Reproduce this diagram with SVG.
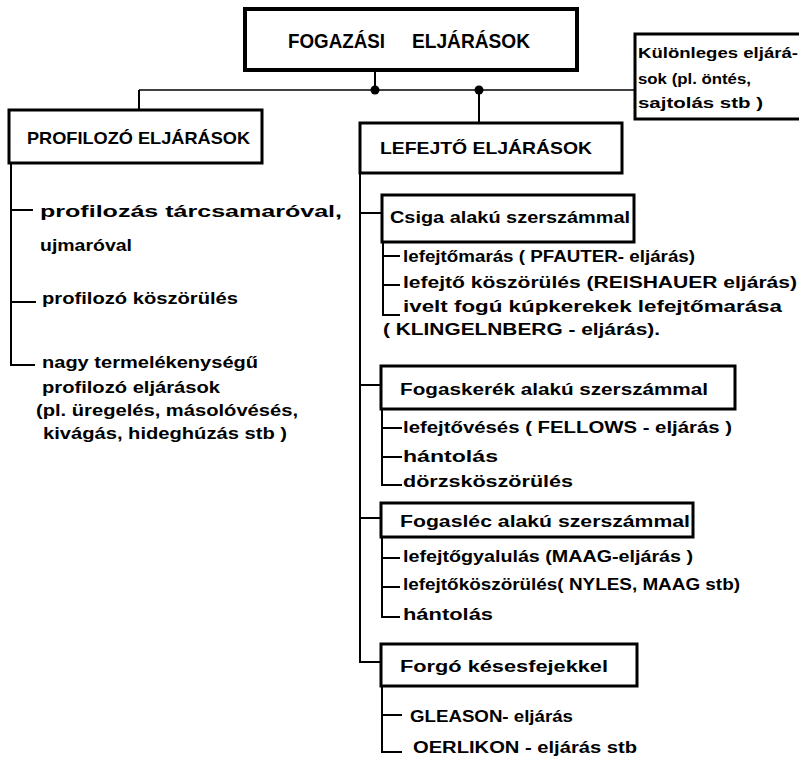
<svg xmlns="http://www.w3.org/2000/svg" width="799" height="759" viewBox="0 0 799 759">
<style>
  text { font-family: "Liberation Sans", Arial, sans-serif; font-weight: bold; fill: #000; }
  .box { fill: #fff; stroke: #000; stroke-width: 3; }
  .main { stroke-width: 4; }
  .ln { fill: none; stroke: #000; stroke-width: 2; }
  .thin { fill: none; stroke: #000; stroke-width: 1.5; }
  .t16 { font-size: 16px; }
  .t15 { font-size: 15px; }
  .t17 { font-size: 17px; }
</style>
<rect width="799" height="759" fill="#fff"/>

<g id="connectors">
  <path class="thin" d="M139 90 H635"/>
  <path class="ln" d="M375 70 V90 M139 90 V110 M479 90 V123"/>
  <circle cx="375" cy="90" r="4.5" fill="#000"/>
  <circle cx="479" cy="90" r="4.5" fill="#000"/>
  <path class="ln" d="M11 163 V365 H35 M11 210 H33 M11 302 H36"/>
  <path class="ln" d="M360 173 V662 H381 M360 213 H382 M360 385 H381 M360 518 H381"/>
  <path class="ln" d="M383 242 V315 H400 M383 256 H400 M383 285 H400"/>
  <path class="ln" d="M382 409 V485 H402 M382 428 H402 M382 457 H402"/>
  <path class="ln" d="M382 537 V617 H400 M382 558 H400 M382 587 H400"/>
  <path class="ln" d="M382 686 V752 H402 M382 715 H402"/>
</g>

<g id="fogazasi">
  <rect class="box main" x="245" y="9" width="332" height="61"/>
  <text x="288" y="48" font-size="20" textLength="97" lengthAdjust="spacingAndGlyphs">FOGAZÁSI</text>
  <text x="412" y="48" font-size="20" textLength="118" lengthAdjust="spacingAndGlyphs">ELJÁRÁSOK</text>
</g>

<g id="kulonleges">
  <rect class="box" x="635" y="34" width="168" height="85"/>
  <text class="t15" x="638" y="58" textLength="160" lengthAdjust="spacingAndGlyphs">Különleges eljárá-</text>
  <text class="t15" x="638" y="84" textLength="113" lengthAdjust="spacingAndGlyphs">sok (pl. öntés,</text>
  <text class="t15" x="638" y="108" textLength="125" lengthAdjust="spacingAndGlyphs">sajtolás  stb )</text>
</g>

<g id="profilozo">
  <rect class="box" x="9" y="110" width="253" height="53"/>
  <text class="t17" x="27" y="144" textLength="223" lengthAdjust="spacingAndGlyphs">PROFILOZÓ  ELJÁRÁSOK</text>
</g>

<g id="profilozo-items">
  <text class="t16" x="40" y="217" textLength="302" lengthAdjust="spacingAndGlyphs">profilozás  tárcsamaróval,</text>
  <text class="t16" x="40" y="251" textLength="92" lengthAdjust="spacingAndGlyphs">ujmaróval</text>
  <text class="t16" x="42" y="304" textLength="196" lengthAdjust="spacingAndGlyphs">profilozó  köszörülés</text>
  <text class="t16" x="42" y="368" textLength="216" lengthAdjust="spacingAndGlyphs">nagy  termelékenységű</text>
  <text class="t16" x="42" y="393" textLength="178" lengthAdjust="spacingAndGlyphs">profilozó  eljárások</text>
  <text class="t16" x="36" y="416" textLength="262" lengthAdjust="spacingAndGlyphs">(pl. üregelés,  másolóvésés,</text>
  <text class="t16" x="43" y="439" textLength="244" lengthAdjust="spacingAndGlyphs">kivágás, hideghúzás   stb )</text>
</g>

<g id="lefejto">
  <rect class="box" x="360" y="123" width="262" height="50"/>
  <text class="t17" x="380" y="154" textLength="212" lengthAdjust="spacingAndGlyphs">LEFEJTŐ  ELJÁRÁSOK</text>
</g>

<g id="csiga">
  <rect class="box" x="382" y="195" width="252" height="47"/>
  <text class="t16" x="390" y="223" textLength="240" lengthAdjust="spacingAndGlyphs">Csiga alakú szerszámmal</text>
</g>
<g id="csiga-items">
  <text class="t16" x="403" y="262" textLength="292" lengthAdjust="spacingAndGlyphs">lefejtőmarás  ( PFAUTER- eljárás)</text>
  <text class="t16" x="403" y="288" textLength="394" lengthAdjust="spacingAndGlyphs">lefejtő  köszörülés (REISHAUER  eljárás)</text>
  <text class="t16" x="403" y="312" textLength="379" lengthAdjust="spacingAndGlyphs">ivelt  fogú  kúpkerekek  lefejtőmarása</text>
  <text class="t16" x="383" y="335" textLength="277" lengthAdjust="spacingAndGlyphs">( KLINGELNBERG - eljárás).</text>
</g>

<g id="fogaskerek">
  <rect class="box" x="381" y="366" width="354" height="43"/>
  <text class="t16" x="400" y="395" textLength="308" lengthAdjust="spacingAndGlyphs">Fogaskerék  alakú  szerszámmal</text>
</g>
<g id="fogaskerek-items">
  <text class="t16" x="403" y="433" textLength="329" lengthAdjust="spacingAndGlyphs">lefejtővésés  ( FELLOWS - eljárás )</text>
  <text class="t16" x="403" y="462" textLength="95" lengthAdjust="spacingAndGlyphs">hántolás</text>
  <text class="t16" x="403" y="487" textLength="170" lengthAdjust="spacingAndGlyphs">dörzsköszörülés</text>
</g>

<g id="fogaslec">
  <rect class="box" x="381" y="503" width="312" height="34"/>
  <text class="t16" x="400" y="527" textLength="290" lengthAdjust="spacingAndGlyphs">Fogasléc  alakú  szerszámmal</text>
</g>
<g id="fogaslec-items">
  <text class="t16" x="403" y="562" textLength="290" lengthAdjust="spacingAndGlyphs">lefejtőgyalulás  (MAAG-eljárás )</text>
  <text class="t16" x="403" y="590" textLength="337" lengthAdjust="spacingAndGlyphs">lefejtőköszörülés( NYLES,  MAAG  stb)</text>
  <text class="t16" x="403" y="620" textLength="90" lengthAdjust="spacingAndGlyphs">hántolás</text>
</g>

<g id="forgo">
  <rect class="box" x="381" y="644" width="256" height="42"/>
  <text class="t16" x="400" y="672" textLength="208" lengthAdjust="spacingAndGlyphs">Forgó   késesfejekkel</text>
</g>
<g id="forgo-items">
  <text class="t16" x="410" y="722" textLength="163" lengthAdjust="spacingAndGlyphs">GLEASON- eljárás</text>
  <text class="t16" x="413" y="753" textLength="224" lengthAdjust="spacingAndGlyphs">OERLIKON - eljárás   stb</text>
</g>
</svg>
